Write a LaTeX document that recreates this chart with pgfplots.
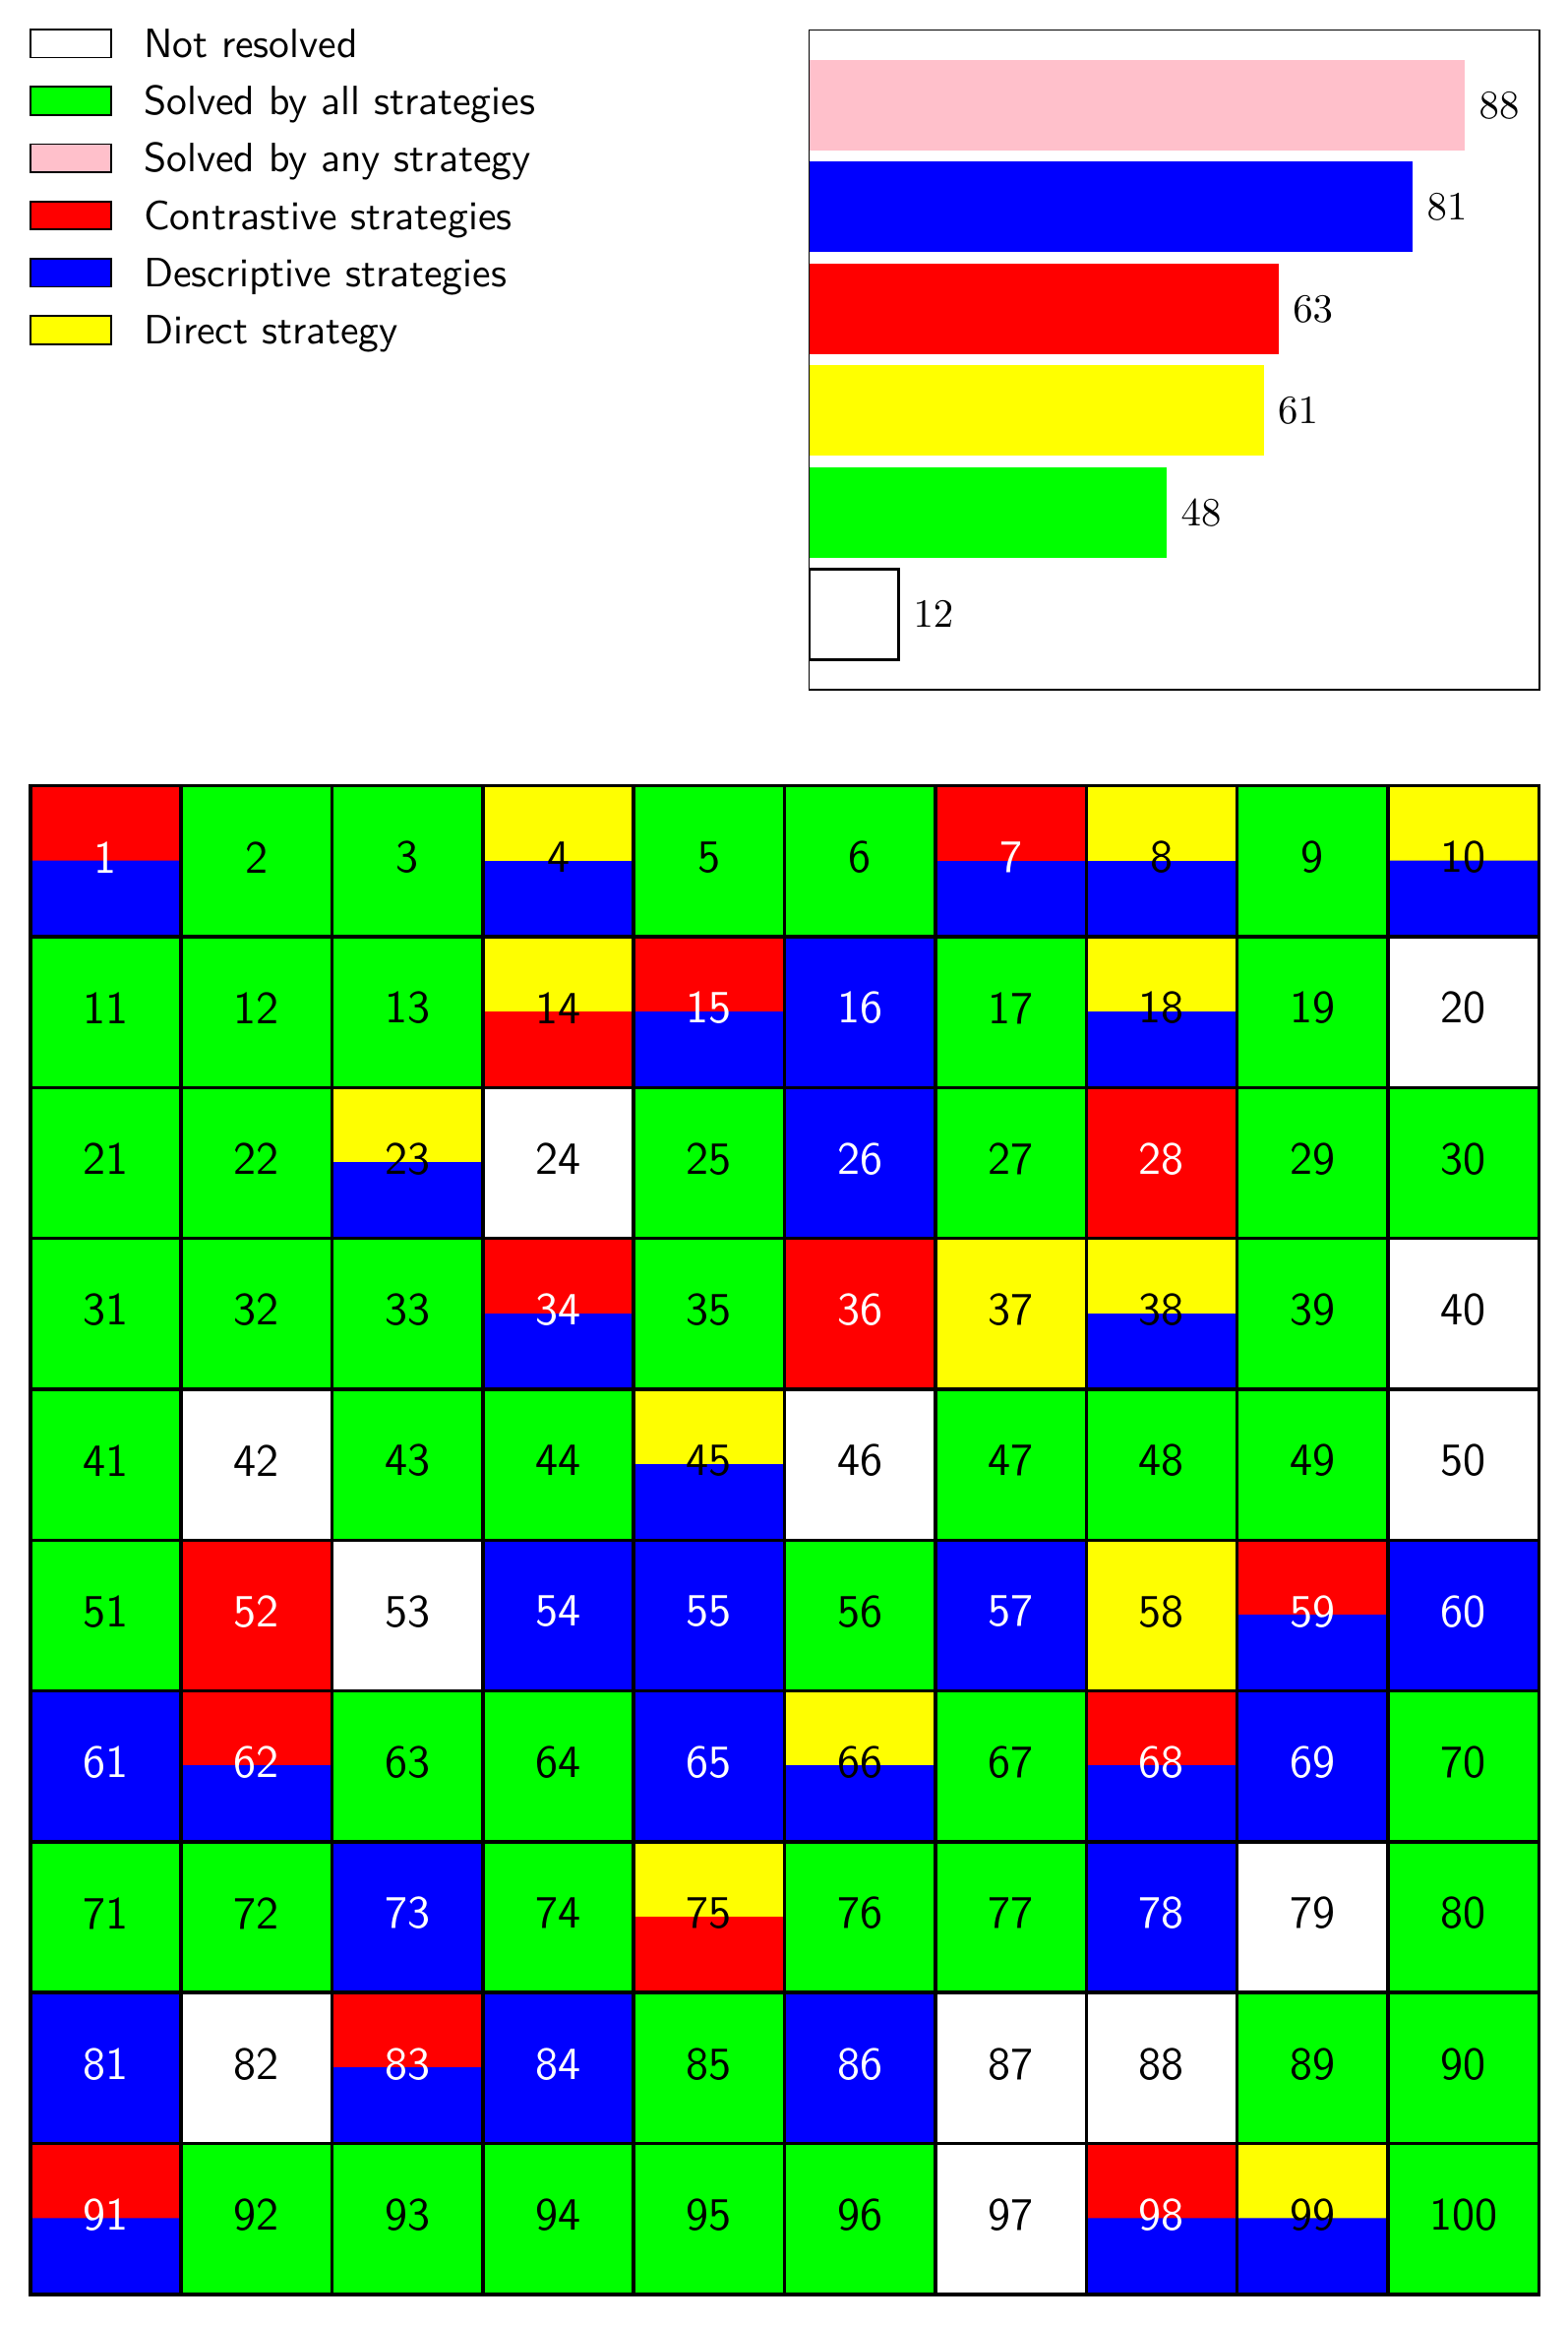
\documentclass[border=0pt]{standalone}
\usepackage{pgfplots}
\pgfplotsset{compat=1.18}
\renewcommand{\familydefault}{\sfdefault}
\definecolor{cpink}{RGB}{255,192,203}
\definecolor{cgreen}{RGB}{0,255,0}
\definecolor{cred}{RGB}{255,0,0}
\definecolor{cblue}{RGB}{0,0,255}
\definecolor{cyellow}{RGB}{255,255,0}
\pgfplotsset{
  sw/.style={legend image code/.code={\draw[fill=#1,draw=black,line width=0.42pt] (0pt,-3.515pt) rectangle (20.1pt,3.515pt); \path (27.97pt,0pt);}},
  mybar/.style={xbar, bar width=0.89, bar shift=0pt, nodes near coords, forget plot},
  cellnum/.style={only marks, mark=none, point meta=explicit symbolic, nodes near coords, nodes near coords align={center},
    every node near coord/.append style={text=#1, anchor=center, font=\fontsize{11.5}{13}\selectfont, yshift=1pt}},
}
\begin{document}
\begin{tikzpicture}
\path[use as bounding box] (0pt,0pt) rectangle (390.69pt,-579.17pt);
% ---------- bar chart with legend ----------
\begin{axis}[
  at={(201.6pt,-7.47pt)}, anchor=north west,
  scale only axis, width=182.0pt, height=164.3pt,
  xmin=0, xmax=98, ymin=-0.738, ymax=5.738,
  xtick=\empty, ytick=\empty,
  every node near coord/.append style={font=\fontsize{10}{12}\selectfont, text=black},
  legend cell align=left,
  legend style={at={(-1.0669,1.023)}, anchor=north west, draw=none, fill=none,
    inner sep=0pt, outer sep=0pt, row sep=0pt, column sep=0pt,
    nodes={inner sep=0pt, outer sep=0pt, text height=10.6pt, text depth=3.68pt, font=\fontsize{10.2}{12}\selectfont}},
]
\addplot[mybar, fill=cpink, draw=none] coordinates {(88,5)};
\addplot[mybar, fill=cblue, draw=none] coordinates {(81,4)};
\addplot[mybar, fill=cred, draw=none] coordinates {(63,3)};
\addplot[mybar, fill=cyellow, draw=none] coordinates {(61,2)};
\addplot[mybar, fill=cgreen, draw=none] coordinates {(48,1)};
\addplot[mybar, fill=white, draw=black, line width=0.74pt] coordinates {(12,0)};
\addlegendimage{sw=white}
\addlegendentry{Not resolved}
\addlegendimage{sw=cgreen}
\addlegendentry{Solved by all strategies}
\addlegendimage{sw=cpink}
\addlegendentry{Solved by any strategy}
\addlegendimage{sw=cred}
\addlegendentry{Contrastive strategies}
\addlegendimage{sw=cblue}
\addlegendentry{Descriptive strategies}
\addlegendimage{sw=cyellow}
\addlegendentry{Direct strategy}
\end{axis}
% ---------- 10x10 grid ----------
% codes: 0 not resolved (white), 1 all (green), 2 contrastive (red), 3 descriptive (blue), 4 direct (yellow)
\begin{axis}[
  at={(7.55pt,-195.76pt)}, anchor=north west,
  scale only axis, width=375.86pt, height=375.76pt,
  xmin=0, xmax=10, ymin=0, ymax=10, y dir=reverse,
  xtick={0,1,...,10}, ytick={0,1,...,10},
  xticklabels={}, yticklabels={},
  major tick length=0pt, tick style={draw=none},
  grid=major, major grid style={black, line width=0.85pt},
  axis line style={line width=0.85pt},
  axis on top,
  colormap={cells}{rgb255=(255,255,255) rgb255=(0,255,0) rgb255=(255,0,0) rgb255=(0,0,255) rgb255=(255,255,0)},
  point meta min=0, point meta max=4,
]
\addplot[matrix plot*, mesh/cols=10, point meta=explicit] coordinates {
(0.5,0.25) [2] (1.5,0.25) [1] (2.5,0.25) [1] (3.5,0.25) [4] (4.5,0.25) [1] (5.5,0.25) [1] (6.5,0.25) [2] (7.5,0.25) [4] (8.5,0.25) [1] (9.5,0.25) [4]
(0.5,0.75) [3] (1.5,0.75) [1] (2.5,0.75) [1] (3.5,0.75) [3] (4.5,0.75) [1] (5.5,0.75) [1] (6.5,0.75) [3] (7.5,0.75) [3] (8.5,0.75) [1] (9.5,0.75) [3]
(0.5,1.25) [1] (1.5,1.25) [1] (2.5,1.25) [1] (3.5,1.25) [4] (4.5,1.25) [2] (5.5,1.25) [3] (6.5,1.25) [1] (7.5,1.25) [4] (8.5,1.25) [1] (9.5,1.25) [0]
(0.5,1.75) [1] (1.5,1.75) [1] (2.5,1.75) [1] (3.5,1.75) [2] (4.5,1.75) [3] (5.5,1.75) [3] (6.5,1.75) [1] (7.5,1.75) [3] (8.5,1.75) [1] (9.5,1.75) [0]
(0.5,2.25) [1] (1.5,2.25) [1] (2.5,2.25) [4] (3.5,2.25) [0] (4.5,2.25) [1] (5.5,2.25) [3] (6.5,2.25) [1] (7.5,2.25) [2] (8.5,2.25) [1] (9.5,2.25) [1]
(0.5,2.75) [1] (1.5,2.75) [1] (2.5,2.75) [3] (3.5,2.75) [0] (4.5,2.75) [1] (5.5,2.75) [3] (6.5,2.75) [1] (7.5,2.75) [2] (8.5,2.75) [1] (9.5,2.75) [1]
(0.5,3.25) [1] (1.5,3.25) [1] (2.5,3.25) [1] (3.5,3.25) [2] (4.5,3.25) [1] (5.5,3.25) [2] (6.5,3.25) [4] (7.5,3.25) [4] (8.5,3.25) [1] (9.5,3.25) [0]
(0.5,3.75) [1] (1.5,3.75) [1] (2.5,3.75) [1] (3.5,3.75) [3] (4.5,3.75) [1] (5.5,3.75) [2] (6.5,3.75) [4] (7.5,3.75) [3] (8.5,3.75) [1] (9.5,3.75) [0]
(0.5,4.25) [1] (1.5,4.25) [0] (2.5,4.25) [1] (3.5,4.25) [1] (4.5,4.25) [4] (5.5,4.25) [0] (6.5,4.25) [1] (7.5,4.25) [1] (8.5,4.25) [1] (9.5,4.25) [0]
(0.5,4.75) [1] (1.5,4.75) [0] (2.5,4.75) [1] (3.5,4.75) [1] (4.5,4.75) [3] (5.5,4.75) [0] (6.5,4.75) [1] (7.5,4.75) [1] (8.5,4.75) [1] (9.5,4.75) [0]
(0.5,5.25) [1] (1.5,5.25) [2] (2.5,5.25) [0] (3.5,5.25) [3] (4.5,5.25) [3] (5.5,5.25) [1] (6.5,5.25) [3] (7.5,5.25) [4] (8.5,5.25) [2] (9.5,5.25) [3]
(0.5,5.75) [1] (1.5,5.75) [2] (2.5,5.75) [0] (3.5,5.75) [3] (4.5,5.75) [3] (5.5,5.75) [1] (6.5,5.75) [3] (7.5,5.75) [4] (8.5,5.75) [3] (9.5,5.75) [3]
(0.5,6.25) [3] (1.5,6.25) [2] (2.5,6.25) [1] (3.5,6.25) [1] (4.5,6.25) [3] (5.5,6.25) [4] (6.5,6.25) [1] (7.5,6.25) [2] (8.5,6.25) [3] (9.5,6.25) [1]
(0.5,6.75) [3] (1.5,6.75) [3] (2.5,6.75) [1] (3.5,6.75) [1] (4.5,6.75) [3] (5.5,6.75) [3] (6.5,6.75) [1] (7.5,6.75) [3] (8.5,6.75) [3] (9.5,6.75) [1]
(0.5,7.25) [1] (1.5,7.25) [1] (2.5,7.25) [3] (3.5,7.25) [1] (4.5,7.25) [4] (5.5,7.25) [1] (6.5,7.25) [1] (7.5,7.25) [3] (8.5,7.25) [0] (9.5,7.25) [1]
(0.5,7.75) [1] (1.5,7.75) [1] (2.5,7.75) [3] (3.5,7.75) [1] (4.5,7.75) [2] (5.5,7.75) [1] (6.5,7.75) [1] (7.5,7.75) [3] (8.5,7.75) [0] (9.5,7.75) [1]
(0.5,8.25) [3] (1.5,8.25) [0] (2.5,8.25) [2] (3.5,8.25) [3] (4.5,8.25) [1] (5.5,8.25) [3] (6.5,8.25) [0] (7.5,8.25) [0] (8.5,8.25) [1] (9.5,8.25) [1]
(0.5,8.75) [3] (1.5,8.75) [0] (2.5,8.75) [3] (3.5,8.75) [3] (4.5,8.75) [1] (5.5,8.75) [3] (6.5,8.75) [0] (7.5,8.75) [0] (8.5,8.75) [1] (9.5,8.75) [1]
(0.5,9.25) [2] (1.5,9.25) [1] (2.5,9.25) [1] (3.5,9.25) [1] (4.5,9.25) [1] (5.5,9.25) [1] (6.5,9.25) [0] (7.5,9.25) [2] (8.5,9.25) [4] (9.5,9.25) [1]
(0.5,9.75) [3] (1.5,9.75) [1] (2.5,9.75) [1] (3.5,9.75) [1] (4.5,9.75) [1] (5.5,9.75) [1] (6.5,9.75) [0] (7.5,9.75) [3] (8.5,9.75) [3] (9.5,9.75) [1]
};
% cell numbers, white text
\addplot[cellnum=white] coordinates {
(0.5,0.5) [1] (6.5,0.5) [7]
(4.5,1.5) [15] (5.5,1.5) [16]
(5.5,2.5) [26] (7.5,2.5) [28]
(3.5,3.5) [34] (5.5,3.5) [36]
(1.5,5.5) [52] (3.5,5.5) [54] (4.5,5.5) [55] (6.5,5.5) [57] (8.5,5.5) [59] (9.5,5.5) [60]
(0.5,6.5) [61] (1.5,6.5) [62] (4.5,6.5) [65] (7.5,6.5) [68] (8.5,6.5) [69]
(2.5,7.5) [73] (7.5,7.5) [78]
(0.5,8.5) [81] (2.5,8.5) [83] (3.5,8.5) [84] (5.5,8.5) [86]
(0.5,9.5) [91] (7.5,9.5) [98]
};
% cell numbers, black text
\addplot[cellnum=black] coordinates {
(1.5,0.5) [2] (2.5,0.5) [3] (3.5,0.5) [4] (4.5,0.5) [5] (5.5,0.5) [6] (7.5,0.5) [8] (8.5,0.5) [9] (9.5,0.5) [10]
(0.5,1.5) [11] (1.5,1.5) [12] (2.5,1.5) [13] (3.5,1.5) [14] (6.5,1.5) [17] (7.5,1.5) [18] (8.5,1.5) [19] (9.5,1.5) [20]
(0.5,2.5) [21] (1.5,2.5) [22] (2.5,2.5) [23] (3.5,2.5) [24] (4.5,2.5) [25] (6.5,2.5) [27] (8.5,2.5) [29] (9.5,2.5) [30]
(0.5,3.5) [31] (1.5,3.5) [32] (2.5,3.5) [33] (4.5,3.5) [35] (6.5,3.5) [37] (7.5,3.5) [38] (8.5,3.5) [39] (9.5,3.5) [40]
(0.5,4.5) [41] (1.5,4.5) [42] (2.5,4.5) [43] (3.5,4.5) [44] (4.5,4.5) [45] (5.5,4.5) [46] (6.5,4.5) [47] (7.5,4.5) [48] (8.5,4.5) [49] (9.5,4.5) [50]
(0.5,5.5) [51] (2.5,5.5) [53] (5.5,5.5) [56] (7.5,5.5) [58]
(2.5,6.5) [63] (3.5,6.5) [64] (5.5,6.5) [66] (6.5,6.5) [67] (9.5,6.5) [70]
(0.5,7.5) [71] (1.5,7.5) [72] (3.5,7.5) [74] (4.5,7.5) [75] (5.5,7.5) [76] (6.5,7.5) [77] (8.5,7.5) [79] (9.5,7.5) [80]
(1.5,8.5) [82] (4.5,8.5) [85] (6.5,8.5) [87] (7.5,8.5) [88] (8.5,8.5) [89] (9.5,8.5) [90]
(1.5,9.5) [92] (2.5,9.5) [93] (3.5,9.5) [94] (4.5,9.5) [95] (5.5,9.5) [96] (6.5,9.5) [97] (8.5,9.5) [99] (9.5,9.5) [100]
};
\end{axis}
\end{tikzpicture}
\end{document}
